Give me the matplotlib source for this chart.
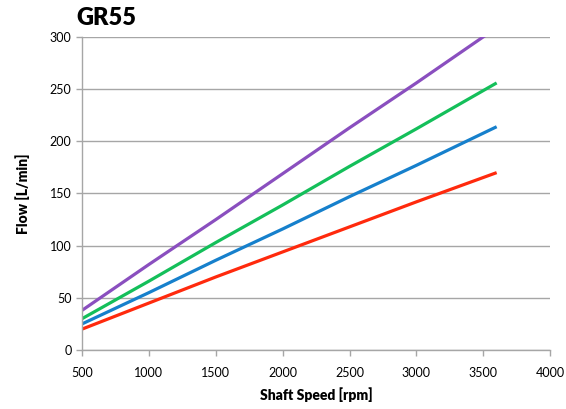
import matplotlib
matplotlib.use("Agg")
import matplotlib.pyplot as plt

speed = [500, 1000, 1500, 2000, 2500, 3000, 3600]
flow_purple = [38, 82, 125, 169, 213, 256, 309]
flow_green = [30, 66, 103, 139, 176, 212, 256]
flow_blue = [25, 55, 86, 116, 147, 177, 214]
flow_red = [20, 45, 70, 94, 118, 142, 170]

xticks = [500, 1000, 1500, 2000, 2500, 3000, 3500, 4000]
yticks = [0, 50, 100, 150, 200, 250, 300]

plt.rcParams['font.family'] = ['Lato', 'DejaVu Sans']

fig = plt.figure(figsize=(5.66, 4.09), dpi=100)
ax = fig.add_axes([0.145, 0.1443, 0.827, 0.7652])

for y, c in [(flow_purple, '#8A4FBF'), (flow_green, '#14BF5A'),
             (flow_blue, '#1680CC'), (flow_red, '#FF2A0D')]:
    ax.plot(speed, y, color=c, lw=2.3, solid_capstyle='butt')

ax.set_xlim(500, 4000)
ax.set_ylim(0, 300)
ax.set_xticks(xticks)
ax.set_yticks(yticks)
ax.grid(axis='y', color='#A6A6A6', lw=1.0)
ax.set_axisbelow(True)
for s in ['top', 'right']:
    ax.spines[s].set_visible(False)
for s in ['left', 'bottom']:
    ax.spines[s].set_color('#A6A6A6')
    ax.spines[s].set_linewidth(1.0)
ax.tick_params(axis='both', colors='#A6A6A6', labelcolor='black', labelsize=9, length=4, width=1.0)
ax.tick_params(axis='x', pad=8)
ax.set_xlabel('Shaft Speed [rpm]', fontsize=10, fontweight='heavy', labelpad=6)
ax.set_ylabel('Flow [L/min]', fontsize=10, fontweight='heavy', labelpad=14)
fig.text(0.135, 0.928, 'GR55', fontsize=17, fontweight='heavy', ha='left', va='bottom')

fig.savefig('out.png', dpi=100)
